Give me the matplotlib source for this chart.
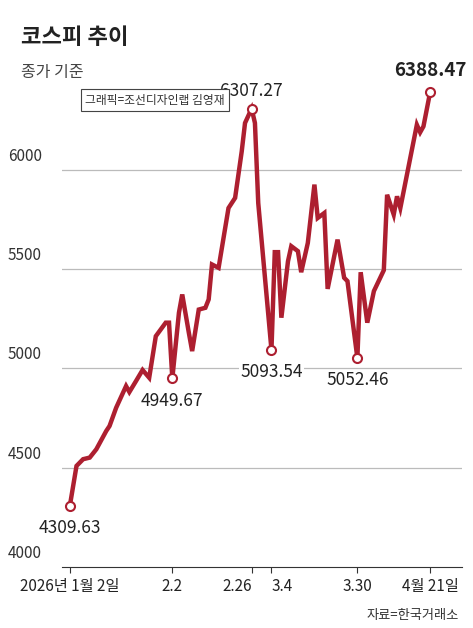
import matplotlib.pyplot as plt
import numpy as np

plt.rcParams['font.family'] = ['Noto Sans CJK KR', 'DejaVu Sans']

# days since 2026-01-02, closing values
days = [0, 2, 4, 6, 8, 11, 12, 14, 17, 18, 20, 22, 24, 26, 29, 30, 31, 33, 34, 36,
        37, 39, 41, 42, 43, 45, 47, 48, 50, 52, 53, 55, 56, 57, 61, 62, 63, 64, 66, 67,
        69, 70, 72, 74, 75, 77, 78, 81, 83, 84, 87, 88, 90, 92, 95, 96, 98, 99, 100,
        105, 106, 107, 109]
kospi = [4309.63, 4509, 4543, 4551, 4593, 4685, 4710, 4802, 4911, 4881, 4936, 4992, 4953,
         5162, 5230, 5230, 4949.67, 5280, 5372, 5179, 5087, 5296, 5305, 5347, 5523, 5506,
         5707, 5807, 5858, 6092, 6235, 6307.27, 6235, 5832, 5093.54, 5585, 5585, 5255,
         5539, 5615, 5590, 5484, 5631, 5925, 5757, 5782, 5400, 5648, 5456, 5439, 5052.46,
         5484, 5230, 5389, 5494, 5874, 5774, 5866, 5807, 6226, 6188, 6218, 6388.47]
# (day, label text, label offset in points)
marks = [(0, '4309.63', -16), (31, '4949.67', -16), (55, '6307.27', 13),
         (61, '5093.54', -16), (87, '5052.46', -16), (109, '6388.47', 16)]
tick_days = [0, 31, 55, 61, 87, 109]
tick_labels = ['2026년 1월 2일', '2.2', '2.26', '3.4', '3.30', '4월 21일']
yticks = [4000, 4500, 5000, 5500, 6000]

red = '#ad1f30'
fig = plt.figure(figsize=(4.73, 6.28), dpi=100)
ax = fig.add_axes([0.131, 0.097, 0.846, 0.791])
ax.plot(days, kospi, color=red, lw=3.2, solid_joinstyle='miter', zorder=3)
for d, lab, off in marks:
    v = kospi[days.index(d)]
    ax.plot(d, v, 'o', ms=6.5, mfc='white', mec=red, mew=1.5, zorder=4)
    bold = d == 109
    ax.annotate(lab, (d, v), xytext=(0, off), textcoords='offset points', ha='center',
                va='center', fontsize=13.5 if bold else 12.5, color='#222222',
                fontweight='bold' if bold else 'normal',
                bbox=dict(fc='white', ec='none', pad=1), zorder=5)

ax.set_ylim(4000, 6500)
ax.set_xlim(-2.4, 118.7)
for y in yticks[1:]:
    ax.axhline(y, color='#bbbbbb', lw=0.9, zorder=1)
for y in yticks:
    ax.text(-0.135, y + 25, str(y), transform=ax.get_yaxis_transform(), fontsize=11,
            color='#333333', va='bottom', ha='left')
ax.set_yticks([])
for s in ['top', 'right', 'left']:
    ax.spines[s].set_visible(False)
ax.spines['bottom'].set_color('#333333')
ax.set_xticks(tick_days)
ax.set_xticklabels(tick_labels, fontsize=11, color='#222222')
labs = ax.get_xticklabels()
labs[2].set_ha('right')
labs[3].set_ha('left')
ax.tick_params(axis='x', length=4, direction='out', color='#333333')

ax.text(0.18, 0.835, '그래픽=조선디자인랩 김영재', transform=fig.transFigure, fontsize=8.5,
        color='#333333', bbox=dict(fc='white', ec='#444444', lw=0.8, pad=3), zorder=6)
fig.text(0.045, 0.93, '코스피 추이', fontsize=16, fontweight='bold', color='#222222')
fig.text(0.045, 0.878, '종가 기준', fontsize=11.5, color='#444444')
fig.text(0.97, 0.015, '자료=한국거래소', fontsize=9.5, color='#333333', ha='right')
fig.savefig('out.png')
